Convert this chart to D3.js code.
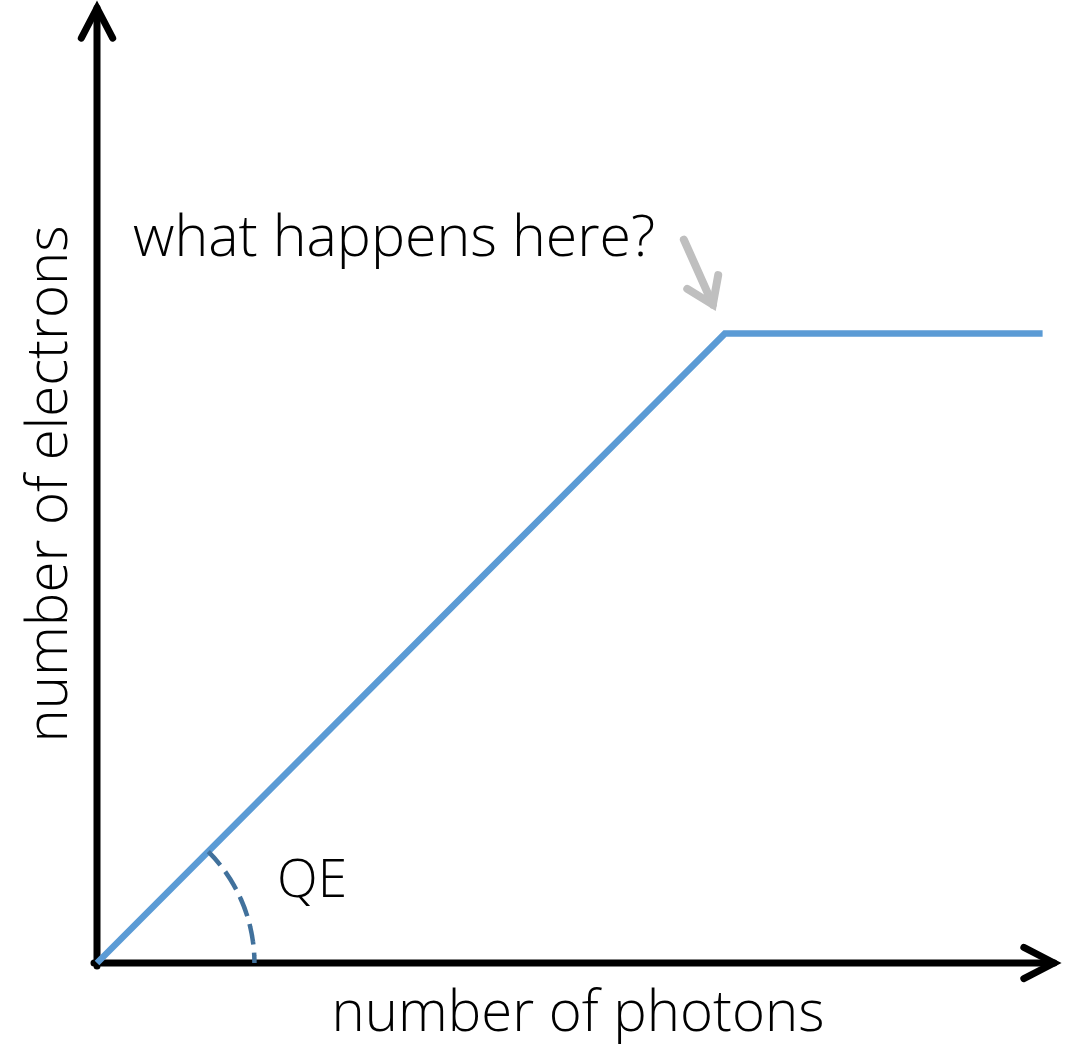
<!DOCTYPE html>
<html>
<head>
<meta charset="UTF-8">
<title>QE response</title>
<script src="https://d3js.org/d3.v7.min.js"></script>
<style>
  body { margin: 0; background: #fff; }
  text { font-family: "Open Sans", "Noto Sans", sans-serif; font-weight: 350; fill: #000; }
</style>
</head>
<body>
<svg id="chart" width="1074" height="1046"></svg>
<script>
  // data: photons in, electrons out (linear until saturation)
  var photons = [0, 6.54, 9.85];
  var electrons = [0, 6.57, 6.57];
  var labels = { x: "number of photons", y: "number of electrons", note: "what happens here?", qe: "QE" };

  var svg = d3.select("#chart");
  var x = d3.scaleLinear().domain([0, 10]).range([97, 1057]);
  var y = d3.scaleLinear().domain([0, 10]).range([963, 5]);

  // axes with open arrow heads
  function arrow(x1, y1, x2, y2, len, spread, color, width) {
    var a = Math.atan2(y2 - y1, x2 - x1);
    svg.append("line")
      .attr("x1", x1).attr("y1", y1).attr("x2", x2).attr("y2", y2)
      .attr("stroke", color).attr("stroke-width", width).attr("stroke-linecap", "round");
    var p = [a + Math.PI - spread, a + Math.PI + spread].map(function (b) {
      return [x2 + len * Math.cos(b), y2 + len * Math.sin(b)];
    });
    svg.append("path")
      .attr("d", "M" + p[0] + "L" + [x2, y2] + "L" + p[1])
      .attr("fill", "none").attr("stroke", color).attr("stroke-width", width)
      .attr("stroke-linecap", "round").attr("stroke-linejoin", "miter");
  }

  arrow(x(0), y(0) + 3, x(0), y(10) + 3, 34, 0.48, "#000", 7);
  arrow(x(0) - 3, y(0), x(10) - 3, y(0), 34, 0.48, "#000", 7);

  // response line
  var line = d3.line().x(function (d) { return x(d[0]); }).y(function (d) { return y(d[1]); });
  svg.append("path")
    .datum(d3.zip(photons, electrons))
    .attr("d", line)
    .attr("fill", "none")
    .attr("stroke", "#5B9BD5")
    .attr("stroke-width", 6.5);

  // QE angle arc
  var r = x(1.64) - x(0);
  var arc = d3.arc().innerRadius(r).outerRadius(r).startAngle(Math.PI / 4).endAngle(Math.PI / 2);
  svg.append("path")
    .attr("transform", "translate(" + x(0) + "," + y(0) + ")")
    .attr("d", arc)
    .attr("fill", "none")
    .attr("stroke", "#41719C")
    .attr("stroke-width", 4.5)
    .attr("stroke-dasharray", "18,11");

  svg.append("text")
    .attr("x", 277).attr("y", 897)
    .style("font-size", "52px")
    .text(labels.qe);

  // annotation
  svg.append("text")
    .attr("x", 133).attr("y", 256)
    .style("font-size", "52px")
    .text(labels.note);

  arrow(x(photons[1]) - 41, y(electrons[1]) - 94, x(photons[1]) - 12, y(electrons[1]) - 29, 30, 0.6, "#BFBFBF", 8);

  // axis titles
  svg.append("text")
    .attr("x", 578).attr("y", 1031)
    .attr("text-anchor", "middle")
    .style("font-size", "52px")
    .text(labels.x);

  svg.append("text")
    .attr("transform", "translate(67,484) rotate(-90)")
    .attr("text-anchor", "middle")
    .style("font-size", "52px")
    .text(labels.y);

  // fit text widths to the reference
  var widths = [[labels.note, 522], [labels.x, 493], [labels.y, 517], [labels.qe, 70]];
  svg.selectAll("text").each(function () {
    var t = d3.select(this);
    var w = widths.find(function (d) { return d[0] === t.text(); });
    if (w) t.style("font-size", (52 * w[1] / this.getComputedTextLength()).toFixed(1) + "px");
  });
</script>
</body>
</html>
